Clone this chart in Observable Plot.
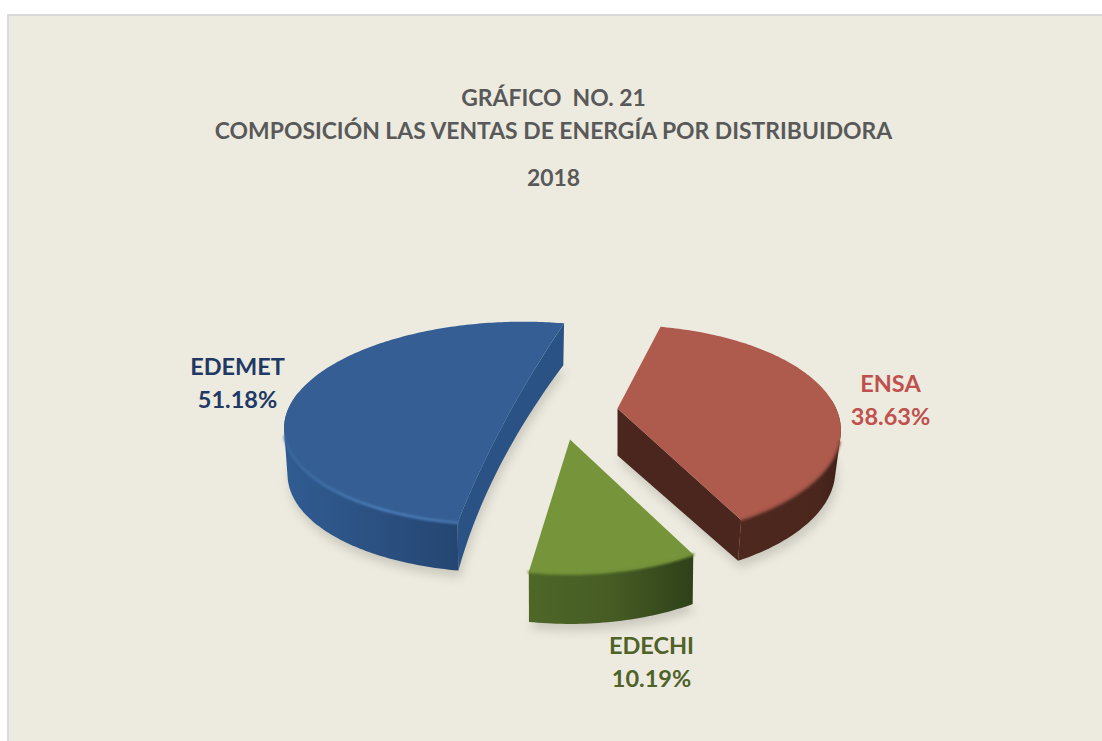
<!DOCTYPE html>
<html><head><meta charset="utf-8">
<script src="https://cdn.jsdelivr.net/npm/d3@7"></script>
<script src="https://cdn.jsdelivr.net/npm/@observablehq/plot@0.6"></script>
<style>
html,body{margin:0;padding:0;background:#fff;overflow:hidden}
#panel{position:absolute;left:7px;top:14px;width:1095px;height:727px;box-sizing:border-box;background:#EDEBE0;border-left:2px solid #D9D9D9;border-top:2px solid #D9D9D9}
#chart{position:absolute;left:0;top:0}
svg{background:transparent!important}
</style></head><body>
<div id="panel"></div><div id="chart"></div>
<script>
// Data
const categories = ["ENSA", "EDECHI", "EDEMET"];
const shares = [38.63, 10.19, 51.18];
const shareLabels = ["38.63%", "10.19%", "51.18%"];
const titleLines = ["GRÁFICO  NO. 21", "COMPOSICIÓN LAS VENTAS DE ENERGÍA POR DISTRIBUIDORA", "2018"];

// Layout of the tilted, exploded pie
const W = 1102, H = 741;
const startAngle = 13, R = 218.6, tilt = 0.48, persp = 0.22;
const placement = {
  ENSA:   {ax: 617, ay: 408, sx: 1, sy: 0.97, shear: -0.03, depth: 40, apexDepth: 47, shrink: 0.975, bow: [0, 0]},
  EDECHI: {ax: 569.5, ay: 439, sx: 0.97, sy: 1, shear: 0, depth: 46, apexDepth: 46, shrink: 0.995, bow: [0, 0]},
  EDEMET: {ax: 513.8, ay: 400.4, sx: 1.015, sy: 0.921, shear: -0.103, depth: 45, apexDepth: 45, shrink: 0.985, bow: [14, 24]}
};
const labelPos = {
  ENSA: {x: 890, y: 384, color: "#C0504D"},
  EDECHI: {x: 651, y: 646, color: "#4F6228"},
  EDEMET: {x: 237, y: 367, color: "#1F3864"}
};
const looks = {
  ENSA: {top: "#AE5B4D", cut: "#4A261E", wall: "url(#wallRed)", bevel: "#8B4A3C"},
  EDECHI: {top: "#76953B", cut: "#4A6126", wall: "url(#wallGreen)", bevel: "#6E8C36"},
  EDEMET: {top: "#355F94", cut: "#2A5284", wall: "url(#wallBlue)", bevel: "url(#bevelBlue)"}
};

function project(name, deg, bottom) {
  const p = placement[name], t = deg * Math.PI / 180;
  const X = Math.sin(t), Y = Math.cos(t), w = 1 + persp * Y;
  const u = R * X / w, v = -R * tilt * Y / w;
  const k = bottom ? p.shrink : 1;
  const d = bottom ? p.depth * (1 + (-Y) * 0.1) : 0;
  return {x: p.ax + k * (p.sx * u + p.shear * v), y: p.ay + k * p.sy * v + d};
}
function apex(name, bottom) {
  const p = placement[name];
  return {x: p.ax, y: p.ay + (bottom ? p.apexDepth : 0)};
}
function arc(name, a0, a1, bottom) {
  const n = Math.max(2, Math.ceil(Math.abs(a1 - a0)));
  return d3.range(n + 1).map(i => project(name, a0 + (a1 - a0) * i / n, bottom));
}
// Inner edge joining the two rim corners: through the apex, or bowed like the big slice
function innerEdge(name, a0, a1, bottom) {
  const bow = placement[name].bow[bottom ? 1 : 0];
  if (!bow) return [apex(name, bottom)];
  const P0 = project(name, a1, bottom), P1 = project(name, a0, bottom);
  const C = {x: (P0.x + P1.x) / 2 - bow, y: (P0.y + P1.y) / 2};
  return d3.range(1, 24).map(i => {
    const t = i / 24, m = 1 - t;
    return {x: m * m * P0.x + 2 * m * t * C.x + t * t * P1.x, y: m * m * P0.y + 2 * m * t * C.y + t * t * P1.y};
  });
}
// Silhouette of the rim band: hull of the top and bottom arcs
function rimHull(name, lo, hi) {
  const pts = [...arc(name, lo, hi, false), ...arc(name, lo, hi, true)].map(d => [d.x, d.y]);
  const hull = d3.polygonHull(pts);
  return hull.map(([x, y]) => ({x, y}));
}

let acc = startAngle;
const spans = categories.map((name, i) => {
  const a0 = acc; acc += shares[i] * 3.6;
  return {name, a0, a1: acc};
});

const defs = () => {
  const g = d3.create("svg:defs");
  g.html(`
  <linearGradient id="wallBlue" x1="0" x2="1" y1="0" y2="0">
    <stop offset="0" stop-color="#305C92"/><stop offset="0.45" stop-color="#2C5284"/><stop offset="1" stop-color="#244672"/>
  </linearGradient>
  <linearGradient id="bevelBlue" x1="0" x2="1" y1="0" y2="0">
    <stop offset="0" stop-color="#3A689F"/><stop offset="0.55" stop-color="#4F80BD"/><stop offset="1" stop-color="#4A78B2"/>
  </linearGradient>
  <linearGradient id="wallRed" x1="0" x2="1" y1="0" y2="0">
    <stop offset="0" stop-color="#4E281F"/><stop offset="0.8" stop-color="#4A261D"/><stop offset="1" stop-color="#3E2018"/>
  </linearGradient>
  <linearGradient id="wallGreen" x1="0" x2="1" y1="0" y2="0">
    <stop offset="0" stop-color="#4E6628"/><stop offset="0.5" stop-color="#465C24"/><stop offset="1" stop-color="#2E4119"/>
  </linearGradient>`);
  return g.node();
};

const fillPoly = (pts, fill, extra = {}) =>
  Plot.line(pts, {x: "x", y: "y", fill, stroke: "none", curve: "linear", ...extra});

const marks = [defs];

// Soft shadows
for (const {name, a0, a1} of spans) {
  const base = [...innerEdge(name, a0, a1, true), ...arc(name, a0, a1, true)].map(d => ({x: d.x + 2, y: d.y + 7}));
  marks.push(fillPoly(base, "#8f8d80", {fillOpacity: 0.35, imageFilter: "blur(5px)"}));
}

// Slice bodies
for (const {name, a0, a1} of spans) {
  const look = looks[name];
  const lo = Math.max(a0, 85), hi = Math.min(a1, 275);
  const edgeTop = innerEdge(name, a0, a1, false);
  const edgeBottom = innerEdge(name, a0, a1, true);
  if (name === "EDEMET") {
    const face = [project(name, a1, false), ...edgeTop, project(name, a0, false),
                  project(name, a0, true), ...edgeBottom.slice().reverse(), project(name, a1, true)];
    marks.push(fillPoly(face, look.cut));
  }
  if (name === "ENSA") {
    marks.push(fillPoly([apex(name, false), project(name, a1, false), project(name, a1, true), apex(name, true)], look.cut));
  }
  marks.push(fillPoly(rimHull(name, lo, hi), look.wall));
  marks.push(fillPoly([...edgeTop, ...arc(name, a0, a1, false)], look.top));
  const bevelLo = Math.max(a0, 108), bevelHi = Math.min(a1, 250);
  marks.push(Plot.line(arc(name, bevelLo, bevelHi, false), {x: "x", y: "y", stroke: look.bevel, strokeWidth: 2.5, imageFilter: "blur(1px)"}));
}

// Texts
marks.push(Plot.text(titleLines, {
  x: () => 553, y: (d, i) => [98, 131, 178][i], text: d => d,
  fontFamily: "Lato", fontWeight: 700, fontSize: 22.9, fill: "#595959"
}));
categories.forEach((name, i) => {
  const p = labelPos[name];
  marks.push(Plot.text([name, shareLabels[i]], {
    x: () => p.x, y: (d, j) => p.y + j * 33, text: d => d,
    fontFamily: "Lato", fontWeight: 700, fontSize: 23.5, fill: p.color
  }));
});

const chart = Plot.plot({
  width: W, height: H, margin: 0,
  x: {domain: [0, W], range: [0, W], axis: null},
  y: {domain: [0, H], range: [0, H], axis: null},
  marks
});
document.getElementById("chart").appendChild(chart);
</script>
</body></html>
